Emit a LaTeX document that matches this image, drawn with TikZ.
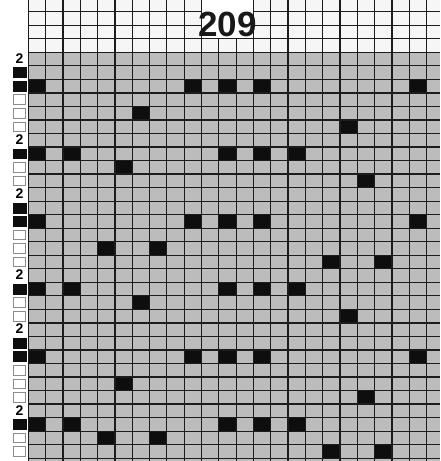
\documentclass[tikz,border=0pt]{standalone}
\usepackage{fontspec}
\setmainfont{Liberation Sans}
\definecolor{cellgray}{RGB}{188,188,188}
\definecolor{paper}{RGB}{246,246,246}
\definecolor{ink}{RGB}{28,28,28}
\definecolor{hole}{RGB}{14,14,14}
\begin{document}
\begin{tikzpicture}[x=1pt,y=-1pt,
  gridline/.style={draw=ink,line width=1.25pt},
  holecell/.style={fill=hole},
  markblack/.style={fill=hole,draw=hole,line width=0.6pt},
  markwhite/.style={fill=white,draw=black!45,line width=0.8pt},
  marktwo/.style={font=\fontsize{14}{14}\selectfont\bfseries,inner sep=0pt,text=black},
  titletext/.style={font=\fontsize{35}{35}\selectfont\bfseries,inner sep=0pt,text=black!90,anchor=base}]
\def\gx{28.3}\def\gy{52.3}\def\pw{17.32}\def\ph{13.53}
\useasboundingbox (0,0) rectangle (440,461);
\fill[white] (0,0) rectangle (440,461);
\fill[paper] (\gx,0) rectangle (440,\gy);
\fill[cellgray] (\gx,\gy) rectangle (440,461);
% black cells
\foreach \c/\r in {0/2,9/2,11/2,13/2,22/2, 6/4, 18/5, 0/7,2/7,11/7,13/7,15/7, 5/8, 19/9,
  0/12,9/12,11/12,13/12,22/12, 4/14,7/14, 17/15,20/15, 0/17,2/17,11/17,13/17,15/17, 6/18, 18/19,
  0/22,9/22,11/22,13/22,22/22, 5/24, 19/25, 0/27,2/27,11/27,13/27,15/27, 4/28,7/28, 17/29,20/29}
  \fill[holecell] ({\gx+\c*\pw},{\gy+\r*\ph}) rectangle ({\gx+(\c+1)*\pw},{\gy+(\r+1)*\ph});
% grid lines
\foreach \c in {0,...,23}
  \draw[gridline] ({\gx+\c*\pw},0) -- ({\gx+\c*\pw},461);
\foreach \r in {-3,...,30}
  \draw[gridline] (\gx,{\gy+\r*\ph}) -- (440,{\gy+\r*\ph});
% title box
\fill[white] ({\gx+10*\pw+0.65},0) rectangle ({\gx+13*\pw-0.65},{\gy-\ph-0.65});
\node[titletext] (title) at ({\gx+11.5*\pw},36) {209};
% left markers
\foreach \r in {0,6,10,16,20,26}
  \node[marktwo] (two\r) at (19.5,{\gy+(\r+0.45)*\ph}) {2};
\foreach \r in {1,2,7,11,12,17,21,22,27}
  \path[markblack] (13.3,{\gy+\r*\ph+1.8}) rectangle (25.8,{\gy+(\r+1)*\ph-1.8});
\foreach \r in {3,4,5,8,9,13,14,15,18,19,23,24,25,28,29}
  \path[markwhite] (13.5,{\gy+\r*\ph+2}) rectangle (25.5,{\gy+(\r+1)*\ph-2});
\end{tikzpicture}
\end{document}
